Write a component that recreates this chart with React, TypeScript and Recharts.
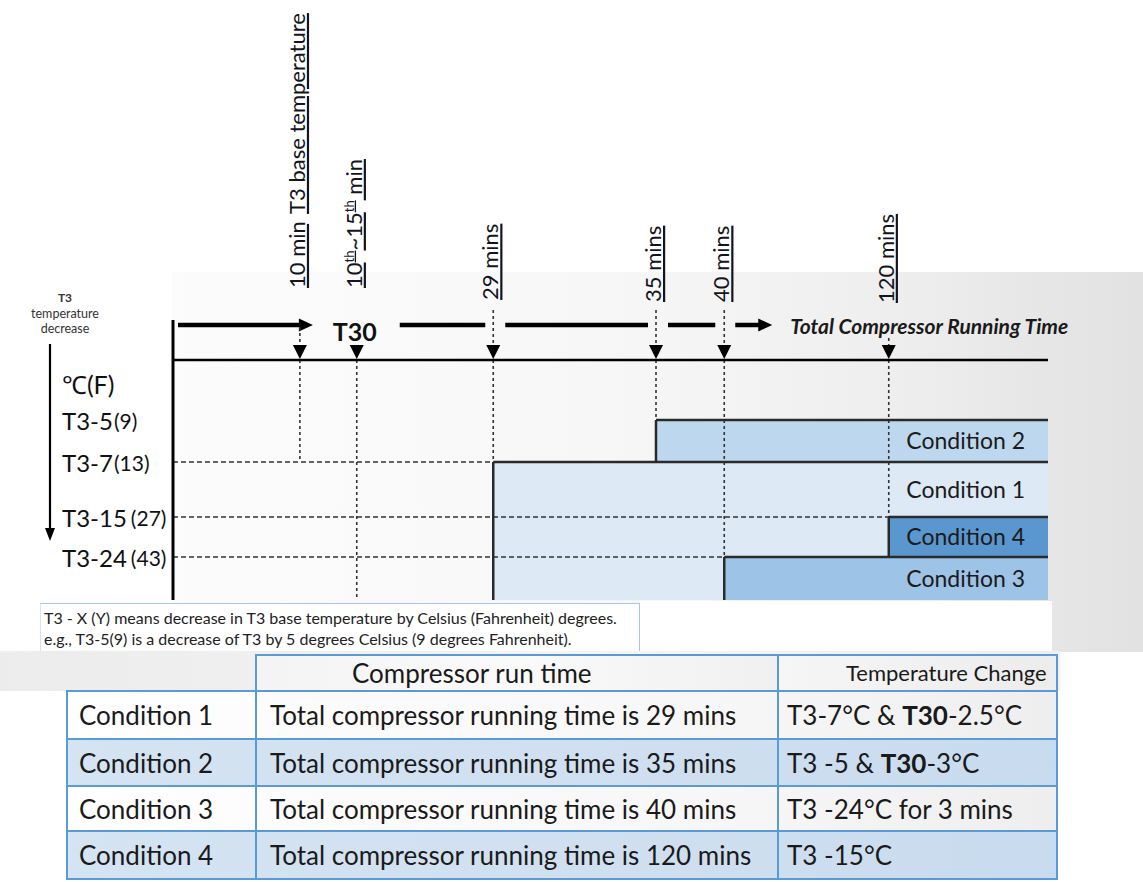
import React from 'react';
import {
  ComposedChart,
  XAxis,
  YAxis,
  Scatter,
  ReferenceArea,
  ReferenceLine,
  ReferenceDot,
} from 'recharts';

const FONT = 'Lato, "Open Sans", "Noto Sans", sans-serif';

// ---------------- data ----------------
const markerMinutes = [10, 15, 29, 35, 40, 120];
const markerLabels = ['10 min', '10th~15th min', '29 mins', '35 mins', '40 mins', '120 mins'];
const markerNotes = ['T3 base temperature', '', '', '', '', ''];
const markerDropToC = [7, 30, 7, 5, 24, 15];

const levelC = [5, 7, 15, 24];
const levelTickC = ['T3-5', 'T3-7', 'T3-15', 'T3-24'];
const levelTickF = ['(9)', '(13)', '(27)', '(43)'];
const AXIS_BOTTOM_C = 30;
const AXIS_END_MIN = 150;

const conditionNames = ['Condition 1', 'Condition 2', 'Condition 3', 'Condition 4'];
const conditionStartMin = [29, 35, 40, 120];
const conditionTopC = [7, 5, 24, 15];
const conditionBottomC = [30, 7, 30, 24];

const dashedLevelC = [7, 15, 24];
const dashedEndMin = [29, 120, 40];

const tableRunTime = [
  'Total compressor running time is 29 mins',
  'Total compressor running time is 35 mins',
  'Total compressor running time is 40 mins',
  'Total compressor running time is 120 mins',
];
const tableT3 = ['T3-7°C', 'T3 -5', 'T3 -24°C for 3 mins', 'T3 -15°C'];
const tableT30 = ['-2.5°C', '-3°C', '', ''];

const noteLines = [
  'T3 - X (Y) means decrease in T3 base temperature by Celsius (Fahrenheit) degrees.',
  'e.g., T3-5(9) is a decrease of T3 by 5 degrees Celsius (9 degrees Fahrenheit).',
];

// ---------------- schematic (non-linear) axes ----------------
const TIME_KNOTS = [0, 10, 15, 29, 35, 40, 120, AXIS_END_MIN];
const TIME_POS = [0, 14.5, 21.0, 36.6, 55.2, 63.0, 81.8, 100];
const LEVEL_KNOTS = [0, 5, 7, 15, 24, AXIS_BOTTOM_C];
const LEVEL_POS = [0, 25, 42.5, 65.4, 82.1, 100];

function interp(v: number, ks: number[], ps: number[]) {
  for (let i = 1; i < ks.length; i++) {
    if (v <= ks[i]) {
      const t = (v - ks[i - 1]) / (ks[i] - ks[i - 1]);
      return ps[i - 1] + t * (ps[i] - ps[i - 1]);
    }
  }
  return ps[ps.length - 1];
}
const tx = (m: number) => interp(m, TIME_KNOTS, TIME_POS);
const ly = (c: number) => interp(c, LEVEL_KNOTS, LEVEL_POS);

// ---------------- styles ----------------
const PLOT_W = 875;
const PLOT_H = 240;
const PXU_X = PLOT_W / 100;
const PXU_Y = PLOT_H / 100;
const ox = (m: number, px: number) => tx(m) + px / PXU_X;
const ARROW_Y = -35 / PXU_Y;
const AXIS_TOP_Y = -40 / PXU_Y;
const CONDITION_FILL = ['#dde9f5', '#bdd7ee', '#9dc3e6', '#5b97cf'];
const LABEL_LIFT = [72, 72, 60, 58, 58, 57];
const STUB_LEN = [33, 0, 50, 50, 50, 22];
const INK = '#141420';

const markerData = markerMinutes.map((m, i) => ({
  x: tx(m),
  y: 0,
  idx: i,
}));

const MarkerShape = (props: any) => {
  const { cx, cy, payload } = props;
  const i = payload.idx;
  const label = markerLabels[i];
  const note = markerNotes[i];
  const stub = STUB_LEN[i];
  const m = label.match(/^(\d+)th~(\d+)th (.*)$/);
  return (
    <g>
      {stub > 0 && (
        <line x1={cx} y1={cy - stub} x2={cx} y2={cy - 14} stroke="#333" strokeWidth={1.6} strokeDasharray="3 3" />
      )}
      <polygon points={`${cx - 7},${cy - 15} ${cx + 7},${cy - 15} ${cx},${cy - 1}`} fill="#000" />
      <text
        transform={`translate(${cx + 5}, ${cy - LABEL_LIFT[i]}) rotate(-90)`}
        fontSize={22}
        fontFamily={FONT}
        fill={INK}
        textDecoration="underline"
      >
        {m ? (
          <>
            <tspan>10</tspan>
            <tspan fontSize={13} dy={-8}>th</tspan>
            <tspan dy={8}>~15</tspan>
            <tspan fontSize={13} dy={-8}>th</tspan>
            <tspan dy={8}> min</tspan>
          </>
        ) : (
          <>
            <tspan>{label}</tspan>
            {note && <tspan dx={10}>{note}</tspan>}
          </>
        )}
      </text>
    </g>
  );
};

const LevelTick = (props: any) => {
  const { y, index } = props;
  return (
    <text x={62} y={y} dominantBaseline="central" fontFamily={FONT} fill="#111">
      <tspan fontSize={24}>{levelTickC[index]}</tspan>
      <tspan fontSize={21} dx={index >= 2 ? 4 : 1}>{levelTickF[index]}</tspan>
    </text>
  );
};

const HeaderShape = (props: any) => {
  const { cx, cy } = props;
  const lx = cx - 108;
  return (
    <g fontFamily={FONT}>
      <text x={lx} y={cy - 58} textAnchor="middle" fontSize={12} fontWeight={700} fill="#333">T3</text>
      <text x={lx} y={cy - 42} textAnchor="middle" fontSize={12.5} fill="#333">temperature</text>
      <text x={lx} y={cy - 27} textAnchor="middle" fontSize={12.5} fill="#333">decrease</text>
      <line x1={cx - 123} y1={cy - 16} x2={cx - 123} y2={cy + 170} stroke="#000" strokeWidth={2.2} />
      <polygon points={`${cx - 128},${cy + 168} ${cx - 118},${cy + 168} ${cx - 123},${cy + 181}`} fill="#000" />
      <text x={cx - 111} y={cy + 24} dominantBaseline="central" fontSize={25} fill="#111">℃(F)</text>
    </g>
  );
};

const arrowShape = (head: boolean) => (p: any) => {
  const { x1, y1, x2, y2 } = p;
  const end = head ? x2 - 11 : x2;
  return (
    <g>
      <line x1={x1} y1={y1} x2={end} y2={y2} stroke="#000" strokeWidth={4.5} />
      {head && <polygon points={`${x2 - 14},${y2 - 6.5} ${x2},${y2} ${x2 - 14},${y2 + 6.5}`} fill="#000" />}
    </g>
  );
};

const arrowSegments: [number, number, boolean][] = [
  [ox(0, 5), ox(10, 13), true],
  [ox(15, 43), ox(29, -8), false],
  [ox(29, 12), ox(35, -8), false],
  [ox(35, 12), ox(40, -9), false],
  [ox(40, 11), ox(40, 48), true],
];

const nextLevelBelow = (c: number) => {
  const below = levelC.filter((l) => l > c);
  return below.length ? below[0] : AXIS_BOTTOM_C;
};

const cellBorder = '2px solid #5b9bd5';

export default function App() {
  return (
    <div style={{ position: 'absolute', left: 0, top: 0, width: 1143, height: 882, background: '#fff', overflow: 'hidden', fontFamily: FONT }}>
      <div
        style={{
          position: 'absolute', left: 172, top: 272, width: 971, height: 380,
          background: 'linear-gradient(to right, #fcfcfc 0%, #f7f7f7 45%, #eeeeee 75%, #e6e6e6 90%, #e2e2e2 100%)',
        }}
      />
      <div style={{ position: 'absolute', left: 640, top: 601, width: 412, height: 51, background: '#fff' }} />
      <div style={{ position: 'absolute', left: 0, top: 651, width: 1060, height: 40, background: 'linear-gradient(to right, #ececec, #f5f5f5 60%, #efefef)' }} />
      <div
        style={{
          position: 'absolute', left: 40, top: 603, width: 600, height: 48, boxSizing: 'border-box',
          borderTop: '1.5px solid #a9c8e8', borderRight: '1.5px solid #a9c8e8', borderLeft: '1px solid #d6e4f2',
          background: '#fff', paddingLeft: 3, paddingTop: 3, fontSize: 16, lineHeight: '21px', color: '#222',
        }}
      >
        {noteLines.map((t, i) => (
          <div key={i} style={{ whiteSpace: 'nowrap' }}>{t}</div>
        ))}
      </div>

      <div style={{ position: 'absolute', left: 0, top: 0 }}>
        <ComposedChart width={1143} height={650} margin={{ top: 360, right: 95, bottom: 50, left: 0 }}>
          <XAxis type="number" dataKey="x" domain={[0, 100]} hide />
          <YAxis
            type="number"
            dataKey="y"
            domain={[0, 100]}
            reversed
            width={173}
            axisLine={false}
            tickLine={false}
            ticks={levelC.map(ly)}
            interval={0}
            tick={<LevelTick />}
          />

          {conditionNames.map((n, i) => (
            <ReferenceArea
              key={`area-${n}`}
              x1={tx(conditionStartMin[i])}
              x2={100}
              y1={ly(conditionTopC[i])}
              y2={ly(conditionBottomC[i])}
              fill={CONDITION_FILL[i]}
              fillOpacity={1}
              stroke="none"
            />
          ))}

          {dashedLevelC.map((c, i) => (
            <ReferenceLine
              key={`dash-${c}`}
              segment={[{ x: 0, y: ly(c) }, { x: tx(dashedEndMin[i]), y: ly(c) }]}
              stroke="#333"
              strokeWidth={1.5}
              strokeDasharray="5 3"
            />
          ))}

          {markerMinutes.map((m, i) => (
            <ReferenceLine
              key={`drop-${m}`}
              segment={[{ x: tx(m), y: 0 }, { x: tx(m), y: ly(markerDropToC[i]) }]}
              stroke="#333"
              strokeWidth={1.6}
              strokeDasharray="3 3"
            />
          ))}

          {conditionNames.map((n, i) => (
            <ReferenceLine
              key={`top-${n}`}
              segment={[{ x: tx(conditionStartMin[i]), y: ly(conditionTopC[i]) }, { x: 100, y: ly(conditionTopC[i]) }]}
              stroke="#2a2a2a"
              strokeWidth={2.5}
            />
          ))}
          {conditionNames.map((n, i) => (
            <ReferenceLine
              key={`left-${n}`}
              segment={[{ x: tx(conditionStartMin[i]), y: ly(conditionTopC[i]) }, { x: tx(conditionStartMin[i]), y: ly(conditionBottomC[i]) }]}
              stroke="#2a2a2a"
              strokeWidth={2.5}
            />
          ))}

          {conditionNames.map((n, i) => (
            <ReferenceArea
              key={`label-${n}`}
              x1={tx(conditionStartMin[i])}
              x2={100}
              y1={ly(conditionTopC[i])}
              y2={ly(nextLevelBelow(conditionTopC[i]))}
              fill="none"
              fillOpacity={0}
              stroke="none"
              label={{ value: n, position: 'insideRight', offset: 23, fill: '#1b1b1b', fontSize: 23, fontFamily: FONT }}
            />
          ))}

          <ReferenceLine segment={[{ x: 0, y: 0 }, { x: 100, y: 0 }]} stroke="#000" strokeWidth={2.5} />
          <ReferenceLine
            segment={[{ x: 0, y: AXIS_TOP_Y }, { x: 0, y: 100 }]}
            stroke="#000"
            strokeWidth={3}
            ifOverflow="visible"
          />

          {arrowSegments.map(([a, b, head], i) => (
            <ReferenceLine
              key={`arrow-${i}`}
              segment={[{ x: a, y: ARROW_Y }, { x: b, y: ARROW_Y }]}
              ifOverflow="visible"
              shape={arrowShape(head)}
            />
          ))}

          <ReferenceDot
            x={tx(15)}
            y={ARROW_Y}
            ifOverflow="visible"
            shape={(p: any) => (
              <text x={p.cx - 2} y={p.cy + 6} textAnchor="middle" dominantBaseline="central" fontSize={25} fontWeight={700} fontFamily={FONT} fill="#111">
                T30
              </text>
            )}
          />
          <ReferenceDot
            x={ox(40, 66)}
            y={ARROW_Y}
            ifOverflow="visible"
            shape={(p: any) => (
              <text x={p.cx} y={p.cy} dominantBaseline="central" fontSize={21} fontStyle="italic" fontWeight={700} fontFamily={FONT} fill="#1a1a1a">
                Total Compressor Running Time
              </text>
            )}
          />
          <ReferenceDot x={0} y={0} ifOverflow="visible" shape={<HeaderShape />} />

          <Scatter data={markerData} shape={<MarkerShape />} isAnimationActive={false} legendType="none" />
        </ComposedChart>
      </div>

      <table
        style={{
          position: 'absolute', left: 66, top: 654, borderCollapse: 'collapse', tableLayout: 'fixed',
          width: 990, fontFamily: FONT, color: '#1a1a1a',
        }}
      >
        <colgroup>
          <col style={{ width: 189 }} />
          <col style={{ width: 522 }} />
          <col style={{ width: 279 }} />
        </colgroup>
        <tbody>
          <tr style={{ height: 36 }}>
            <td style={{ border: 'none', padding: 0 }} />
            <th style={{ border: cellBorder, padding: '0 0 0 95px', textAlign: 'left', fontWeight: 400, fontSize: 26, lineHeight: '30px', background: 'linear-gradient(to right,#f4f4f4,#fafafa,#f0f0f0)' }}>
              Compressor run time
            </th>
            <th style={{ border: cellBorder, padding: '0 0 0 67px', textAlign: 'left', fontWeight: 400, fontSize: 22, lineHeight: '30px', background: 'linear-gradient(to right,#f6f6f6,#ececec)' }}>
              Temperature Change
            </th>
          </tr>
          {conditionNames.map((n, i) => {
            const bg = i % 2 === 0 ? 'linear-gradient(to right,#ffffff,#f6f6f6 70%,#eeeeee)' : 'linear-gradient(to right,#d5e4f2,#cfdff0 60%,#c8dbee)';
            const h = [48, 47, 45, 48][i];
            return (
              <tr key={n} style={{ height: h, background: bg }}>
                <td style={{ border: cellBorder, padding: '0 0 0 11px', fontSize: 26, lineHeight: '30px' }}>{n}</td>
                <td style={{ border: cellBorder, padding: '0 0 0 13px', fontSize: 26, lineHeight: '30px', whiteSpace: 'nowrap' }}>{tableRunTime[i]}</td>
                <td style={{ border: cellBorder, padding: '0 0 0 8px', fontSize: 26, lineHeight: '30px', whiteSpace: 'nowrap' }}>
                  {tableT3[i]}
                  {tableT30[i] && (
                    <>
                      {' & '}
                      <b>T30</b>
                      {tableT30[i]}
                    </>
                  )}
                </td>
              </tr>
            );
          })}
        </tbody>
      </table>
    </div>
  );
}
